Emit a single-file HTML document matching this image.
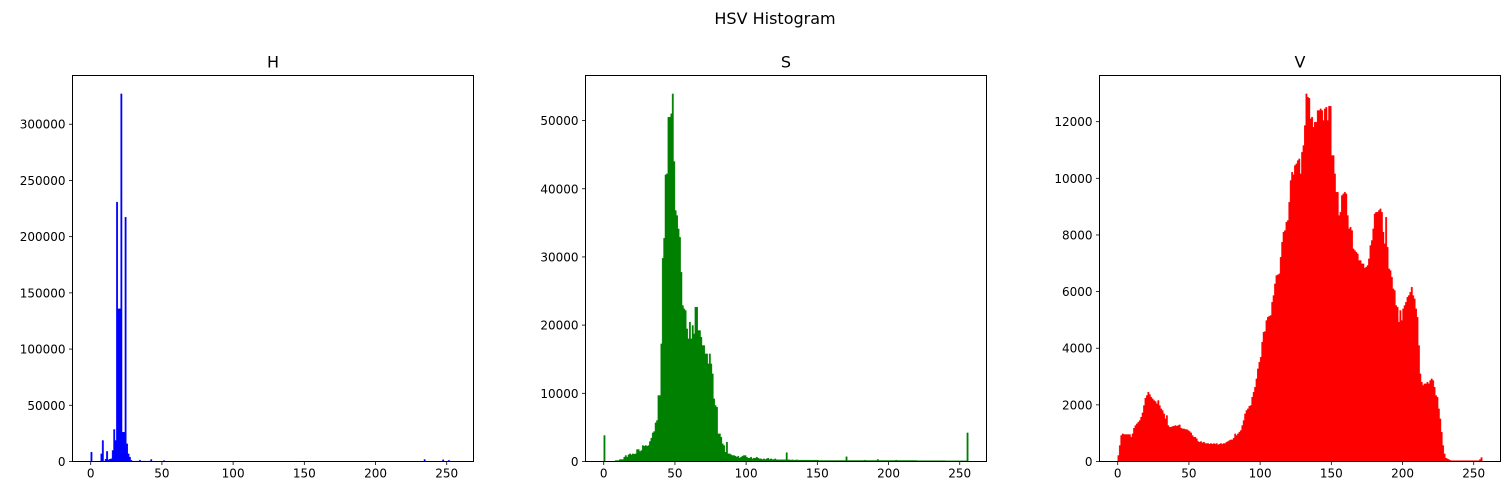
<!DOCTYPE html>
<html><head><meta charset="utf-8"><style>
html,body{margin:0;padding:0;background:#fff;}
svg{display:block;font-family:"DejaVu Sans","Liberation Sans",sans-serif;}
</style></head><body>
<svg id="fig" width="1509" height="495" viewBox="0 0 1509 495">
<text x="775" y="24" font-size="16" text-anchor="middle" fill="#000">HSV Histogram</text>
</svg>
<script>
const hValues=[8300,0,0,0,0,0,0,6800,18700,0,
2000,9000,1500,2000,2400,9800,28500,18700,230700,135800,
135800,327000,26000,26000,217300,15700,6800,3900,1000,300,
300,300,300,300,1200,300,300,300,300,300,
300,300,1800,200,200,200,200,200,200,200,
200,800,150,150,150,150,150,150,150,150,
150,150,150,150,150,150,150,150,150,150,
150,150,150,150,150,150,150,150,150,150,
150,150,150,150,150,150,150,150,150,150,
150,150,150,150,150,150,150,150,150,150,
150,150,150,150,150,150,150,150,150,150,
150,150,150,150,150,150,150,150,150,150,
150,150,150,150,150,150,150,150,150,150,
150,150,150,150,150,150,150,150,150,150,
150,150,150,150,150,150,150,150,150,150,
150,150,150,150,150,150,150,150,150,150,
150,150,150,150,150,150,150,150,150,150,
150,150,150,150,150,150,150,150,150,150,
150,150,150,150,150,150,150,150,150,150,
150,150,150,150,150,150,150,150,150,150,
150,150,150,150,150,150,150,150,150,150,
150,150,150,150,150,150,150,150,150,150,
150,150,150,150,150,150,150,150,150,150,
150,150,150,150,1800,150,150,150,150,150,
150,150,150,150,150,150,150,1500,150,150,
150,1000,150,150,150,150];
const sValues=[3813,0,0,0,0,0,0,0,147,147,
147,293,293,293,635,880,635,978,1124,978,
1124,1075,1124,1760,1760,1466,1613,2346,2248,2346,
2248,2346,2933,3422,4204,4400,5670,6012,9678,9678,
17255,29817,32750,42037,42184,50494,50494,51000,53915,43990,
36806,36073,34118,32896,27764,22876,22387,22143,19454,17988,
20432,17988,19943,18721,22632,22632,19210,19210,18232,17010,
17010,15788,15788,14322,15788,14322,12855,9189,8212,7967,
4057,4057,3568,2591,2346,1369,2835,1124,1124,978,
880,880,782,635,782,489,635,782,880,880,
635,489,489,635,391,489,489,635,489,391,
391,293,391,293,391,489,293,391,293,293,
391,250,250,250,250,250,250,250,1300,250,
250,200,250,200,200,250,200,200,200,200,
200,200,200,200,200,180,200,180,200,200,
180,150,150,150,150,150,150,150,150,150,
150,150,150,150,150,150,150,150,150,150,
700,150,150,150,150,150,150,150,150,150,
150,150,150,200,150,150,150,150,150,150,
150,150,300,150,150,150,150,150,150,150,
150,150,150,150,150,200,150,150,150,150,
150,150,150,150,150,150,150,150,150,150,
120,120,120,120,120,120,120,120,120,120,
120,120,120,120,120,120,120,120,120,120,
100,100,100,100,100,100,100,100,100,100,
100,100,100,100,100,4200];
const vValues=[212,565,918,977,953,953,953,953,953,859,
977,1177,1271,1330,1389,1448,1565,1718,1977,2236,
2330,2448,2366,2272,2213,2154,2119,2036,2154,1977,
1860,1801,1683,1507,1624,1271,1212,1212,1236,1248,
1271,1248,1271,1295,1177,1153,1153,1130,1130,1095,
1059,1012,918,859,859,800,706,683,706,659,
683,636,636,636,612,636,612,636,612,636,
589,612,636,612,636,636,683,706,742,765,
765,824,977,918,977,1036,1095,1271,1448,1683,
1801,1860,1954,1977,2272,2448,2625,2919,3272,3507,
3684,4214,4567,4590,4979,5096,5132,5155,5626,5861,
6273,6568,6591,6627,7215,7745,8098,8157,8451,8510,
9157,9922,10216,10122,10452,10511,10628,10687,10157,10923,
11158,11864,12982,12865,12829,12100,12158,11805,11982,11982,
12394,12394,12453,12394,12041,12453,12512,12041,12547,12547,
10805,10805,10157,9510,9510,8686,8804,9392,9451,9510,
9451,8686,8215,8274,8157,7509,7450,7392,7333,7097,
7097,6980,6980,6827,6862,6921,7156,7627,7804,8215,
8745,8804,8804,8863,8922,8804,8098,7686,8627,7568,
6803,6744,6509,6097,6038,5508,5450,4920,5332,4979,
5391,5508,5626,5803,5861,5979,6156,5861,5744,5391,
5096,4096,3096,2801,2684,2742,2742,2801,2742,2860,
2919,2860,2625,2330,2272,1860,1507,1036,565,271,
118,94,71,40,30,30,30,30,30,30,
30,30,30,30,30,30,30,30,30,30,
30,30,30,30,71,141];
const xTicks=[0,50,100,150,200,250];
const hTicks=[0,50000,100000,150000,200000,250000,300000];
const sTicks=[0,10000,20000,30000,40000,50000];
const vTicks=[0,2000,4000,6000,8000,10000,12000];
const panelTitles=["H","S","V"];

const NS="http://www.w3.org/2000/svg";
const svg=document.getElementById('fig');
function mk(tag,attrs,parent){const e=document.createElementNS(NS,tag);for(const k in attrs)e.setAttribute(k,attrs[k]);(parent||svg).appendChild(e);return e;}

function panel(left,title,values,yTicks,color,key){
  const top=75.5,bottom=461.5,w=401,h=bottom-top;
  const g=mk('g',{});
  
  
  const xmin=-12.8,xmax=268.8;
  const X=v=>left+(v-xmin)/(xmax-xmin)*w;
  const ymax=Math.max(...values)*1.05;
  const Y=v=>bottom-v/ymax*h;
  let d='';
  values.forEach((v,i)=>{ if(v<=0)return; const x0=X(i),x1=X(i+1),y=Y(v); d+=`M${x0.toFixed(2)},${bottom}V${y.toFixed(2)}H${x1.toFixed(2)}V${bottom}Z`; });
  const bars=mk('path',{d:d,fill:color,stroke:color,'stroke-width':0.4},g);
  
  
  const frame=mk('rect',{x:left,y:top,width:w,height:h,fill:'none',stroke:'#000','stroke-width':1},g);
  
  
  xTicks.forEach(t=>{const x=X(t);
    mk('line',{x1:x,x2:x,y1:bottom,y2:bottom+3.5,stroke:'#000','stroke-width':0.8},g);
    const tx=mk('text',{x:x,y:bottom+16,'font-size':12,'text-anchor':'middle',fill:'#000'},g);
    tx.textContent=t;
    
    
  });
  yTicks.forEach(t=>{const y=Y(t);
    mk('line',{x1:left-3.5,x2:left,y1:y,y2:y,stroke:'#000','stroke-width':0.8},g);
    const tx=mk('text',{x:left-7,y:y+4.5,'font-size':12,'text-anchor':'end',fill:'#000'},g);
    tx.textContent=t;
    
    
  });
  const tt=mk('text',{x:left+w/2,y:top-8,'font-size':16,'text-anchor':'middle',fill:'#000'},g);
  tt.textContent=title;
  
  
}
panel(72.5,panelTitles[0],hValues,hTicks,'#0000ff','h');
panel(585.5,panelTitles[1],sValues,sTicks,'#008000','s');
panel(1099.5,panelTitles[2],vValues,vTicks,'#ff0000','v');
</script>
</body></html>
